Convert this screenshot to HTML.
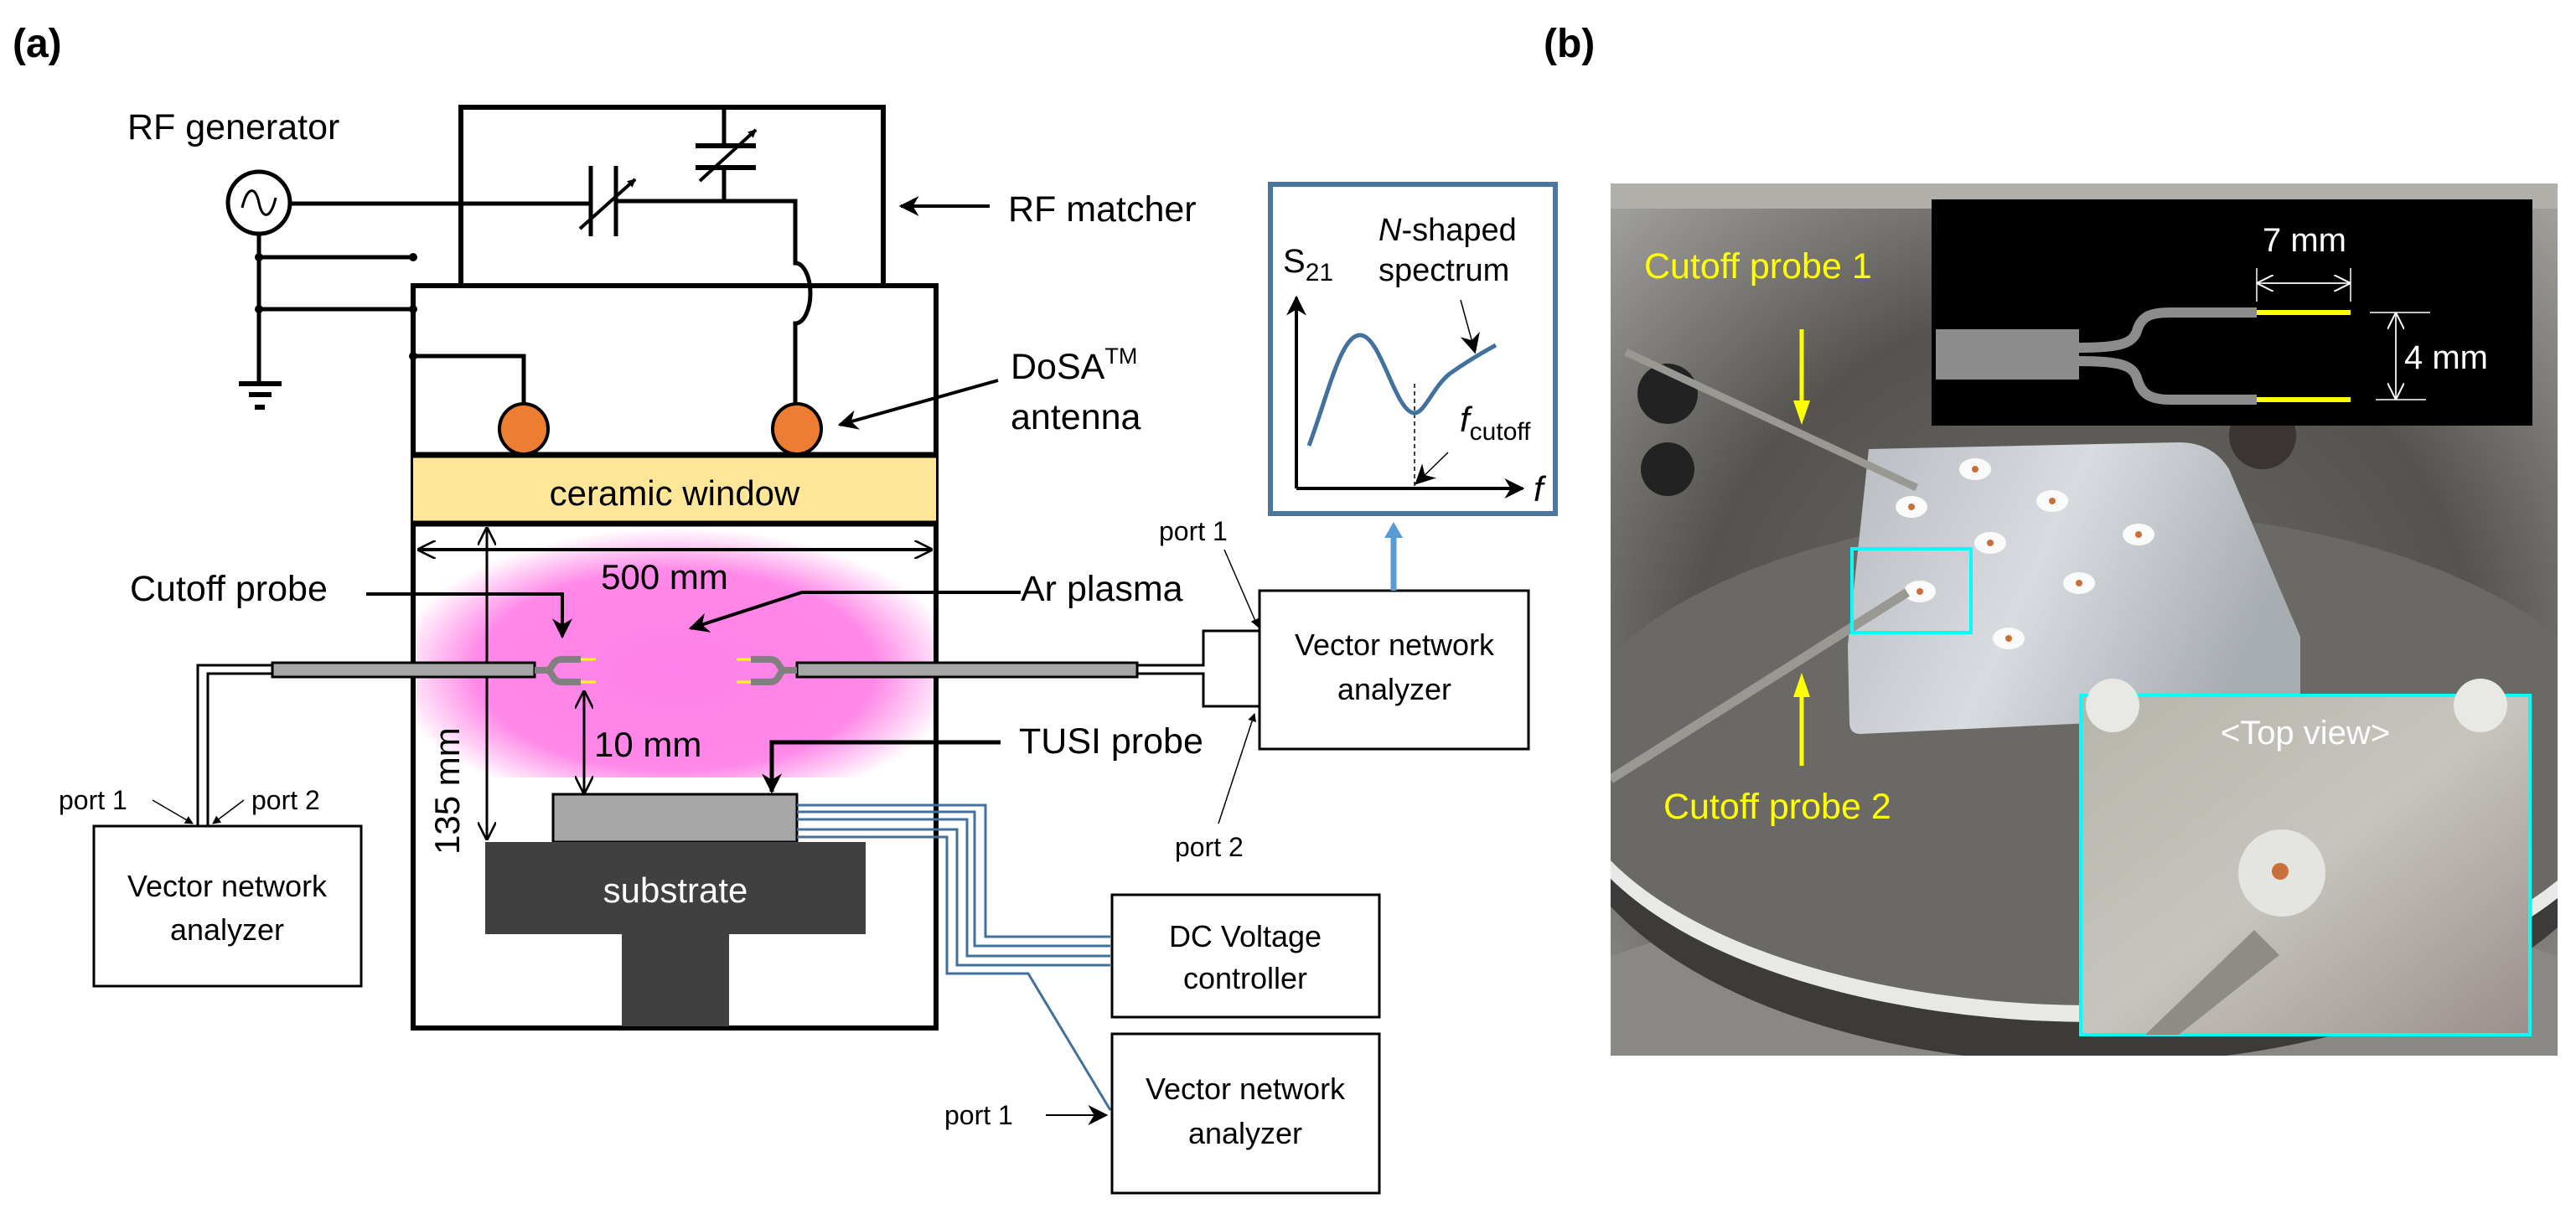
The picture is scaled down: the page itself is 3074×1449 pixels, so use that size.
<!DOCTYPE html>
<html><head><meta charset="utf-8"><style>
html,body{margin:0;padding:0;background:#fff}
svg{display:block}
text{font-family:"Liberation Sans",Arial,sans-serif}
</style></head><body>
<svg width="3074" height="1449" viewBox="0 0 3074 1449" xmlns="http://www.w3.org/2000/svg">
<defs>
<radialGradient id="pl" cx="806" cy="800" r="340" gradientUnits="userSpaceOnUse" gradientTransform="translate(806 800) scale(1 0.5) translate(-806 -800)">
<stop offset="0" stop-color="#ff80e8"/><stop offset="0.7" stop-color="#ff88e8"/><stop offset="1" stop-color="#ff88e8" stop-opacity="0"/></radialGradient>
<marker id="ah" markerWidth="10" markerHeight="10" refX="9" refY="5" orient="auto" markerUnits="userSpaceOnUse" viewBox="0 0 10 10"><path d="M0,0 L10,5 L0,10 z" fill="#000"/></marker>
<marker id="ab" viewBox="0 0 10 10" refX="9" refY="5" markerWidth="24" markerHeight="24" orient="auto" markerUnits="userSpaceOnUse"><path d="M0,0 L10,5 L0,10 L3,5 z" fill="#000"/></marker>
<marker id="ao" viewBox="0 0 10 10" refX="9" refY="5" markerWidth="22" markerHeight="22" orient="auto" markerUnits="userSpaceOnUse"><path d="M0,0 L10,5 L0,10" fill="none" stroke="#000" stroke-width="1.2"/></marker>
<marker id="aw" viewBox="0 0 10 10" refX="9" refY="5" markerWidth="20" markerHeight="20" orient="auto" markerUnits="userSpaceOnUse"><path d="M0,0 L10,5 L0,10" fill="none" stroke="#fff" stroke-width="1"/></marker>
<radialGradient id="ph" cx="0.5" cy="0.55" r="0.75"><stop offset="0" stop-color="#6e6c67"/><stop offset="0.55" stop-color="#55534f"/><stop offset="1" stop-color="#a8a7a2"/></radialGradient>
<linearGradient id="plate" x1="0" y1="0" x2="1" y2="0.3"><stop offset="0" stop-color="#b8bcc0"/><stop offset="0.5" stop-color="#d8dce0"/><stop offset="1" stop-color="#a8adb2"/></linearGradient>
<linearGradient id="tv" x1="0" y1="0" x2="1" y2="1"><stop offset="0" stop-color="#b7b6ad"/><stop offset="0.5" stop-color="#c6c4bc"/><stop offset="1" stop-color="#9a8f8c"/></linearGradient>
</defs>

<text x="15" y="68" font-size="48" font-weight="bold">(a)</text>
<text x="1842" y="68" font-size="48" font-weight="bold">(b)</text>

<rect x="497" y="628" width="618" height="300" fill="url(#pl)"/>

<path d="M550,341 V128 H1054 V341" fill="none" stroke="#000" stroke-width="6"/>
<rect x="493" y="341" width="624" height="886" fill="none" stroke="#000" stroke-width="6"/>
<rect x="493" y="543" width="624" height="82" fill="#ffe699"/>
<line x1="493" y1="543" x2="1117" y2="543" stroke="#000" stroke-width="7"/>
<line x1="493" y1="625" x2="1117" y2="625" stroke="#000" stroke-width="7"/>
<text x="805" y="603" font-size="42" text-anchor="middle">ceramic window</text>

<circle cx="309" cy="242" r="37" fill="#fff" stroke="#000" stroke-width="5"/>
<path d="M289,248 C295,222 305,222 309,242 C313,262 323,262 329,236" fill="none" stroke="#000" stroke-width="3"/>
<line x1="346" y1="243" x2="705" y2="243" stroke="#000" stroke-width="5"/>
<line x1="705" y1="198" x2="705" y2="282" stroke="#000" stroke-width="5"/>
<line x1="735" y1="198" x2="735" y2="282" stroke="#000" stroke-width="5"/>
<line x1="692" y1="273" x2="758" y2="214" stroke="#000" stroke-width="4" marker-end="url(#ah)"/>
<path d="M735,240 H949 V314 A18,36 0 0 1 949,386 V482" fill="none" stroke="#000" stroke-width="5"/>
<line x1="864" y1="128" x2="864" y2="174" stroke="#000" stroke-width="5"/>
<line x1="830" y1="174" x2="902" y2="174" stroke="#000" stroke-width="6"/>
<line x1="830" y1="200" x2="902" y2="200" stroke="#000" stroke-width="6"/>
<line x1="864" y1="200" x2="864" y2="240" stroke="#000" stroke-width="5"/>
<line x1="835" y1="216" x2="902" y2="155" stroke="#000" stroke-width="4" marker-end="url(#ah)"/>
<line x1="309" y1="279" x2="309" y2="458" stroke="#000" stroke-width="5"/>
<line x1="285" y1="458" x2="336" y2="458" stroke="#000" stroke-width="6"/>
<line x1="297" y1="471" x2="324" y2="471" stroke="#000" stroke-width="6"/>
<line x1="304" y1="486" x2="316" y2="486" stroke="#000" stroke-width="6"/>
<line x1="309" y1="307" x2="493" y2="307" stroke="#000" stroke-width="5"/>
<line x1="309" y1="369" x2="493" y2="369" stroke="#000" stroke-width="5"/>
<circle cx="309" cy="307" r="5"/><circle cx="309" cy="369" r="5"/><circle cx="493" cy="307" r="5"/><circle cx="493" cy="369" r="5"/><circle cx="493" cy="425" r="5"/>
<path d="M493,425 H625 V482" fill="none" stroke="#000" stroke-width="5"/>
<ellipse cx="625" cy="512" rx="29" ry="30" fill="#ed7d31" stroke="#000" stroke-width="4"/>
<ellipse cx="951" cy="512" rx="29" ry="30" fill="#ed7d31" stroke="#000" stroke-width="4"/>

<text x="152" y="166" font-size="43">RF generator</text>
<line x1="1181" y1="246" x2="1075" y2="246" stroke="#000" stroke-width="4" marker-end="url(#ab)"/>
<text x="1203" y="264" font-size="43">RF matcher</text>
<text x="1206" y="452" font-size="43">DoSA<tspan font-size="27" dy="-18">TM</tspan></text>
<text x="1206" y="512" font-size="43">antenna</text>
<line x1="1191" y1="454" x2="1002" y2="507" stroke="#000" stroke-width="4" marker-end="url(#ab)"/>

<line x1="520" y1="656" x2="1111" y2="656" stroke="#000" stroke-width="4" marker-end="url(#ao)"/>
<line x1="1100" y1="656" x2="500" y2="656" stroke="#000" stroke-width="4" marker-end="url(#ao)"/>
<text x="793" y="703" font-size="42" text-anchor="middle">500 mm</text>
<line x1="581" y1="990" x2="581" y2="631" stroke="#000" stroke-width="3" marker-end="url(#ao)"/>
<line x1="581" y1="640" x2="581" y2="1001" stroke="#000" stroke-width="3" marker-end="url(#ao)"/>
<text x="0" y="0" font-size="42" transform="translate(548 1020) rotate(-90)">135 mm</text>
<line x1="697" y1="940" x2="697" y2="826" stroke="#000" stroke-width="3" marker-end="url(#ao)"/>
<line x1="697" y1="835" x2="697" y2="946" stroke="#000" stroke-width="3" marker-end="url(#ao)"/>
<text x="709" y="903" font-size="42">10 mm</text>

<text x="155" y="717" font-size="43">Cutoff probe</text>
<path d="M437,709 H671 V760" fill="none" stroke="#000" stroke-width="4" marker-end="url(#ab)"/>
<text x="1218" y="717" font-size="43">Ar plasma</text>
<path d="M1218,707 H957 L824,750" fill="none" stroke="#000" stroke-width="4" marker-end="url(#ab)"/>

<rect x="325" y="791" width="313" height="17" fill="#a6a6a6" stroke="#000" stroke-width="3"/>
<path d="M638,800 H652 M652,800 C660,800 658,787 670,787 H693 M652,800 C660,800 658,814 670,814 H693" fill="none" stroke="#808080" stroke-width="8"/>
<line x1="693" y1="787" x2="711" y2="787" stroke="#ff0" stroke-width="3"/>
<line x1="693" y1="814" x2="711" y2="814" stroke="#ff0" stroke-width="3"/>
<rect x="951" y="791" width="406" height="17" fill="#a6a6a6" stroke="#000" stroke-width="3"/>
<path d="M951,800 H937 M937,800 C929,800 931,787 919,787 H896 M937,800 C929,800 931,814 919,814 H896" fill="none" stroke="#808080" stroke-width="8"/>
<line x1="879" y1="787" x2="896" y2="787" stroke="#ff0" stroke-width="3"/>
<line x1="879" y1="814" x2="896" y2="814" stroke="#ff0" stroke-width="3"/>
<path d="M325,794 H236 V985 M325,804 H248 V985" fill="none" stroke="#000" stroke-width="3"/>
<rect x="112" y="986" width="319" height="191" fill="#fff" stroke="#000" stroke-width="3"/>
<text x="271" y="1070" font-size="36" text-anchor="middle">Vector network</text>
<text x="271" y="1122" font-size="36" text-anchor="middle">analyzer</text>
<text x="70" y="966" font-size="32">port 1</text>
<line x1="182" y1="955" x2="230" y2="983" stroke="#000" stroke-width="1.5" marker-end="url(#ah)"/>
<text x="300" y="966" font-size="32">port 2</text>
<line x1="291" y1="955" x2="254" y2="983" stroke="#000" stroke-width="1.5" marker-end="url(#ah)"/>
<path d="M1357,794 H1436 V753 H1503 M1357,804 H1436 V843 H1503" fill="none" stroke="#000" stroke-width="3"/>
<rect x="1503" y="705" width="321" height="189" fill="#fff" stroke="#000" stroke-width="3"/>
<text x="1664" y="782" font-size="36" text-anchor="middle">Vector network</text>
<text x="1664" y="835" font-size="36" text-anchor="middle">analyzer</text>
<text x="1383" y="645" font-size="32">port 1</text>
<line x1="1461" y1="656" x2="1501" y2="748" stroke="#000" stroke-width="1.5" marker-end="url(#ah)"/>
<text x="1402" y="1022" font-size="32">port 2</text>
<line x1="1454" y1="983" x2="1497" y2="852" stroke="#000" stroke-width="1.5" marker-end="url(#ah)"/>

<text x="1216" y="899" font-size="43">TUSI probe</text>
<path d="M1194,886 H921 V945" fill="none" stroke="#000" stroke-width="5" marker-end="url(#ab)"/>
<rect x="660" y="948" width="291" height="57" fill="#a6a6a6" stroke="#000" stroke-width="3"/>
<rect x="579" y="1005" width="454" height="110" fill="#404040"/>
<rect x="742" y="1114" width="128" height="111" fill="#404040"/>
<text x="806" y="1077" font-size="42" fill="#fff" text-anchor="middle">substrate</text>
<g fill="none" stroke="#41719c" stroke-width="3">
<path d="M951,961 H1176 V1118 H1325"/>
<path d="M951,969 H1163 V1129 H1325"/>
<path d="M951,978 H1154 V1141 H1325"/>
<path d="M951,990 H1142 V1152 H1325"/>
<path d="M951,999 H1130 V1162 H1227 L1325,1325"/>
</g>
<rect x="1327" y="1068" width="319" height="146" fill="#fff" stroke="#000" stroke-width="3"/>
<text x="1486" y="1130" font-size="36" text-anchor="middle">DC Voltage</text>
<text x="1486" y="1180" font-size="36" text-anchor="middle">controller</text>
<rect x="1327" y="1234" width="319" height="190" fill="#fff" stroke="#000" stroke-width="3"/>
<text x="1486" y="1312" font-size="36" text-anchor="middle">Vector network</text>
<text x="1486" y="1365" font-size="36" text-anchor="middle">analyzer</text>
<text x="1127" y="1342" font-size="32">port 1</text>
<line x1="1248" y1="1331" x2="1320" y2="1331" stroke="#000" stroke-width="2" marker-end="url(#ab)"/>

<rect x="1516" y="220" width="340" height="393" fill="#fff" stroke="#4a76a0" stroke-width="6"/>
<line x1="1663" y1="705" x2="1663" y2="640" stroke="#5b9bd5" stroke-width="7"/>
<path d="M1652,642 L1663,623 L1674,642 z" fill="#5b9bd5"/>
<line x1="1547" y1="583" x2="1547" y2="355" stroke="#000" stroke-width="4" marker-end="url(#ab)"/>
<line x1="1547" y1="583" x2="1817" y2="583" stroke="#000" stroke-width="4" marker-end="url(#ab)"/>
<text x="1531" y="325" font-size="40">S<tspan font-size="30" dy="10">21</tspan></text>
<text x="1645" y="287" font-size="38"><tspan font-style="italic">N</tspan>-shaped</text>
<text x="1645" y="335" font-size="38">spectrum</text>
<text x="1830" y="598" font-size="42" font-style="italic">f</text>
<text x="1742" y="515" font-size="42" font-style="italic">f<tspan font-style="normal" font-size="30" dy="10">cutoff</tspan></text>
<line x1="1688" y1="458" x2="1688" y2="583" stroke="#000" stroke-width="1.5" stroke-dasharray="5,4"/>
<path d="M1562,532 C1585,470 1600,400 1623,400 C1648,400 1665,493 1688,493 C1700,493 1710,462 1730,446 C1750,432 1770,420 1785,412" fill="none" stroke="#41719c" stroke-width="5"/>
<line x1="1743" y1="358" x2="1760" y2="420" stroke="#000" stroke-width="1.5" marker-end="url(#ab)"/>
<line x1="1728" y1="540" x2="1690" y2="577" stroke="#000" stroke-width="1.5" marker-end="url(#ab)"/>

<svg x="1922" y="219" width="1130" height="1041" viewBox="1922 219 1130 1041" overflow="hidden">
<rect x="1922" y="219" width="1130" height="1041" fill="url(#ph)"/>
<rect x="1922" y="219" width="1130" height="30" fill="#b0afaa"/>
<ellipse cx="2487" cy="1260" rx="700" ry="200" fill="#8a8884"/>
<ellipse cx="2500" cy="940" rx="640" ry="330" fill="#3c3b3a"/>
<ellipse cx="2500" cy="920" rx="640" ry="300" fill="#e8e8e6"/>
<ellipse cx="2500" cy="905" rx="635" ry="295" fill="#6a6966"/>
<circle cx="1990" cy="470" r="36" fill="#222"/>
<circle cx="1990" cy="560" r="32" fill="#222"/>
<circle cx="2700" cy="520" r="40" fill="#3a3532"/>
<path d="M2230,536 L2600,528 Q2640,528 2660,560 L2745,760 L2745,840 Q2745,850 2730,852 L2220,876 Q2207,876 2207,862 L2205,770 Z" fill="url(#plate)"/>
<g fill="#fafafa"><ellipse cx="2357" cy="560" rx="19" ry="13"/><ellipse cx="2281" cy="605" rx="19" ry="13"/><ellipse cx="2449" cy="598" rx="19" ry="13"/><ellipse cx="2375" cy="648" rx="19" ry="13"/><ellipse cx="2552" cy="638" rx="19" ry="13"/><ellipse cx="2291" cy="706" rx="19" ry="13"/><ellipse cx="2481" cy="696" rx="19" ry="13"/><ellipse cx="2397" cy="762" rx="19" ry="13"/></g>
<g fill="#c8703a"><circle cx="2357" cy="560" r="4"/><circle cx="2281" cy="605" r="4"/><circle cx="2449" cy="598" r="4"/><circle cx="2375" cy="648" r="4"/><circle cx="2552" cy="638" r="4"/><circle cx="2291" cy="706" r="4"/><circle cx="2481" cy="696" r="4"/><circle cx="2397" cy="762" r="4"/></g>
<line x1="1940" y1="420" x2="2287" y2="582" stroke="#9a9893" stroke-width="9"/>
<line x1="1922" y1="930" x2="2276" y2="707" stroke="#9a9893" stroke-width="11"/>
<rect x="2210" y="655" width="142" height="100" fill="none" stroke="#00ffff" stroke-width="4"/>
<text x="1962" y="332" font-size="43" fill="#ff0">Cutoff probe 1</text>
<text x="1985" y="977" font-size="43" fill="#ff0">Cutoff probe 2</text>
<line x1="2150" y1="393" x2="2150" y2="480" stroke="#ff0" stroke-width="5"/>
<path d="M2140,478 L2160,478 L2150,507 z" fill="#ff0"/>
<line x1="2150" y1="914" x2="2150" y2="830" stroke="#ff0" stroke-width="5"/>
<path d="M2140,832 L2160,832 L2150,803 z" fill="#ff0"/>
<rect x="2305" y="238" width="717" height="270" fill="#000"/>
<rect x="2310" y="393" width="171" height="60" fill="#8c8c8c"/>
<path d="M2481,415 C2530,415 2545,410 2550,395 C2555,378 2565,373 2590,373 H2693 M2481,431 C2530,431 2545,436 2550,451 C2555,470 2565,477 2590,477 H2693" fill="none" stroke="#8c8c8c" stroke-width="12"/>
<line x1="2693" y1="373" x2="2805" y2="373" stroke="#ff0" stroke-width="6"/>
<line x1="2693" y1="477" x2="2805" y2="477" stroke="#ff0" stroke-width="6"/>
<line x1="2693" y1="320" x2="2693" y2="360" stroke="#fff" stroke-width="1.5"/>
<line x1="2805" y1="320" x2="2805" y2="360" stroke="#fff" stroke-width="1.5"/>
<line x1="2700" y1="338" x2="2803" y2="338" stroke="#fff" stroke-width="1.5" marker-end="url(#aw)"/>
<line x1="2798" y1="338" x2="2695" y2="338" stroke="#fff" stroke-width="1.5" marker-end="url(#aw)"/>
<text x="2750" y="300" font-size="40" fill="#fff" text-anchor="middle">7 mm</text>
<line x1="2828" y1="373" x2="2900" y2="373" stroke="#fff" stroke-width="1.5"/>
<line x1="2835" y1="477" x2="2895" y2="477" stroke="#fff" stroke-width="1.5"/>
<line x1="2859" y1="380" x2="2859" y2="475" stroke="#fff" stroke-width="1.5" marker-end="url(#aw)"/>
<line x1="2859" y1="470" x2="2859" y2="375" stroke="#fff" stroke-width="1.5" marker-end="url(#aw)"/>
<text x="2869" y="440" font-size="40" fill="#fff">4 mm</text>
<rect x="2483" y="830" width="536" height="405" fill="url(#tv)" stroke="#00ffff" stroke-width="4"/>
<circle cx="2521" cy="842" r="32" fill="#e8e8e4"/><circle cx="2960" cy="842" r="32" fill="#e8e8e4"/>
<circle cx="2723" cy="1042" r="52" fill="#e4e4e0"/>
<circle cx="2721" cy="1040" r="10" fill="#c8703a"/>
<path d="M2560,1235 L2690,1110 L2720,1140 L2600,1235 Z" fill="#8e8c86"/>
<text x="2751" y="888" font-size="40" fill="#fff" text-anchor="middle">&lt;Top view&gt;</text>
</svg>
</svg>
</body></html>
